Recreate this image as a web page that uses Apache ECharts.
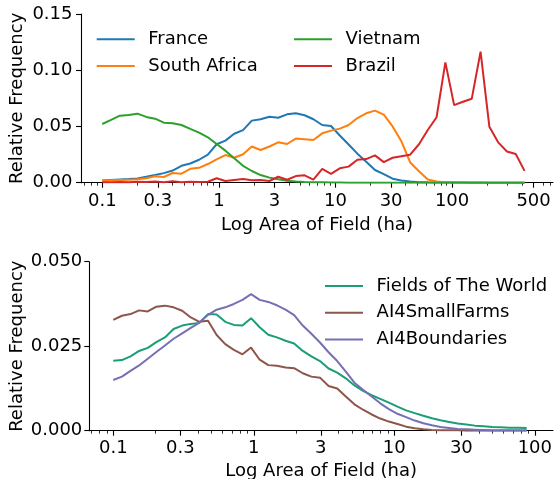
<!DOCTYPE html>
<html>
<head>
<meta charset="utf-8">
<script src="https://cdn.jsdelivr.net/npm/echarts@6/dist/echarts.min.js"></script>
<style>
html,body{margin:0;padding:0;background:#fff;}
#chart{width:554px;height:479px;}
</style>
</head>
<body>
<div id="chart"></div>
<script>
// ---------- Top panel data (field area bins, ha) ----------
const topArea = [0.1, 0.119, 0.1416, 0.1684, 0.2003, 0.2384, 0.2836, 0.3375, 0.4015, 0.4777,
  0.5683, 0.6762, 0.8045, 0.9569, 1.138, 1.354, 1.612, 1.917, 2.281, 2.714,
  3.228, 3.841, 4.570, 5.437, 6.469, 7.696, 9.157, 10.89, 12.96, 15.42,
  18.35, 21.83, 25.97, 30.90, 36.76, 43.73, 52.03, 61.90, 73.65, 87.62,
  104.2, 124.0, 147.6, 175.6, 208.9, 248.5, 295.7, 351.8, 418.5];

const france = [0.0020, 0.0024, 0.0028, 0.0032, 0.0038, 0.0052, 0.0068, 0.0085, 0.0108, 0.0150,
  0.0171, 0.0204, 0.0250, 0.0342, 0.0374, 0.0435, 0.0467, 0.0552, 0.0564, 0.0587,
  0.0578, 0.0608, 0.0617, 0.0600, 0.0564, 0.0513, 0.0504, 0.0420, 0.0340, 0.0258,
  0.0187, 0.0113, 0.0076, 0.0036, 0.0020, 0.0010, 0.0005, 0.0003, 0.0002, 0.0001,
  0.0001, 0.0001, 0, 0, 0, 0, 0, 0, 0];

const southAfrica = [0.0018, 0.0021, 0.0024, 0.0027, 0.0030, 0.0039, 0.0057, 0.0051, 0.0086, 0.0080,
  0.0124, 0.0132, 0.0166, 0.0208, 0.0246, 0.0222, 0.0253, 0.0322, 0.0291, 0.0322,
  0.0359, 0.0344, 0.0392, 0.0386, 0.0380, 0.0439, 0.0463, 0.0481, 0.0513, 0.0575,
  0.0617, 0.0641, 0.0605, 0.0500, 0.0368, 0.0180, 0.0102, 0.0028, 0.0010, 0.0005,
  0.0003, 0.0002, 0.0001, 0.0001, 0, 0, 0, 0, 0];

const vietnam = [0.0522, 0.0558, 0.0596, 0.0602, 0.0614, 0.0585, 0.0569, 0.0534, 0.0528, 0.0513,
  0.0478, 0.0445, 0.0404, 0.0344, 0.0285, 0.0217, 0.0150, 0.0104, 0.0068, 0.0045,
  0.0030, 0.0018, 0.0010, 0.0006, 0.0004, 0.0003, 0.0002, 0.0001, 0, 0,
  0, 0, 0, 0, 0, 0, 0, 0, 0, 0,
  0, 0, 0, 0, 0, 0, 0, 0, 0];

const brazil = [0.0004, 0.0005, 0.0006, 0.0005, 0.0008, 0.0006, 0.0010, 0.0005, 0.0012, 0.0004,
  0.0008, 0.0006, 0.0008, 0.0040, 0.0015, 0.0024, 0.0032, 0.0021, 0.0024, 0.0015,
  0.0053, 0.0026, 0.0059, 0.0066, 0.0028, 0.0122, 0.0078, 0.0128, 0.0143, 0.0204,
  0.0210, 0.0243, 0.0183, 0.0222, 0.0236, 0.0249, 0.0342, 0.0469, 0.0582, 0.1070,
  0.0690, 0.0720, 0.0747, 0.1165, 0.0498, 0.0359, 0.0278, 0.0255, 0.0105];

// ---------- Bottom panel data ----------
const botArea = [0.1, 0.1152, 0.1326, 0.1527, 0.1759, 0.2025, 0.2332, 0.2686, 0.3093, 0.3562,
  0.4102, 0.4724, 0.544, 0.6264, 0.7214, 0.8307, 0.9564, 1.101, 1.268, 1.461,
  1.682, 1.937, 2.231, 2.569, 2.958, 3.406, 3.923, 4.517, 5.202, 5.990,
  6.898, 7.943, 9.147, 10.53, 12.13, 13.97, 16.09, 18.53, 21.33, 24.57,
  28.29, 32.58, 37.52, 43.20, 49.75, 57.29, 65.97, 75.97, 87.49];

const fieldsOfTheWorld = [0.0207, 0.0209, 0.0220, 0.0236, 0.0245, 0.0262, 0.0276, 0.0301, 0.0311, 0.0316,
  0.0319, 0.0345, 0.0344, 0.0322, 0.0313, 0.0311, 0.0333, 0.0306, 0.0284, 0.0276,
  0.0266, 0.0258, 0.0236, 0.0220, 0.0206, 0.0184, 0.0172, 0.0155, 0.0134, 0.0118,
  0.0105, 0.0094, 0.0083, 0.0071, 0.0060, 0.0052, 0.0044, 0.0037, 0.0031, 0.0026,
  0.0021, 0.0018, 0.0015, 0.0013, 0.0011, 0.0010, 0.0009, 0.0009, 0.0008];

const ai4SmallFarms = [0.0328, 0.0340, 0.0345, 0.0356, 0.0353, 0.0367, 0.0370, 0.0365, 0.0355, 0.0335,
  0.0322, 0.0325, 0.0283, 0.0256, 0.0239, 0.0226, 0.0246, 0.0210, 0.0194, 0.0192,
  0.0187, 0.0185, 0.0170, 0.0160, 0.0157, 0.0132, 0.0125, 0.0101, 0.0078, 0.0062,
  0.0048, 0.0036, 0.0027, 0.0020, 0.0012, 0.0007, 0.0004, 0.0002, 0.0001, 0.0001,
  0.0001, 0, 0, 0, 0, 0, 0, 0, 0];

const ai4Boundaries = [0.0150, 0.0160, 0.0177, 0.0193, 0.0213, 0.0233, 0.0252, 0.0272, 0.0288, 0.0304,
  0.0320, 0.0343, 0.0358, 0.0365, 0.0375, 0.0387, 0.0404, 0.0387, 0.0381, 0.0371,
  0.0358, 0.0342, 0.0311, 0.0287, 0.0261, 0.0232, 0.0206, 0.0175, 0.0142, 0.0121,
  0.0101, 0.0081, 0.0064, 0.0050, 0.0040, 0.0030, 0.0022, 0.0016, 0.0011, 0.0008,
  0.0005, 0.0004, 0.0003, 0.0002, 0.0001, 0.0001, 0.0001, 0.0001, 0.0001];

// ---------- Ticks ----------
const topTickValues = [0.1, 0.3, 1, 3, 10, 30, 100, 500];
const topTickLabels = ['0.1', '0.3', '1', '3', '10', '30', '100', '500'];
const topMinorTicks = [0.07, 0.08, 0.09, 0.2, 0.4, 0.5, 0.6, 0.7, 0.8, 0.9, 2, 4, 5, 6, 7, 8, 9,
  20, 40, 50, 60, 70, 80, 90, 200, 300, 400, 600, 700];
const botTickValues = [0.1, 0.3, 1, 3, 10, 30, 100];
const botTickLabels = ['0.1', '0.3', '1', '3', '10', '30', '100'];
const botMinorTicks = [0.07, 0.08, 0.09, 0.2, 0.4, 0.5, 0.6, 0.7, 0.8, 0.9, 2, 4, 5, 6, 7, 8, 9,
  20, 40, 50, 60, 70, 80, 90];

const FONT = 'DejaVu Sans';
const pairs = (xs, ys) => xs.map((x, i) => [x, ys[i]]);
function labelFor(values, labels) {
  return function (v) {
    let best = 0, bd = Infinity;
    for (let i = 0; i < values.length; i++) {
      const d = Math.abs(Math.log10(v) - Math.log10(values[i]));
      if (d < bd) { bd = d; best = i; }
    }
    return labels[best];
  };
}

const txt = {color: '#000', fontFamily: FONT, fontSize: 18};
const axLine = {show: true, lineStyle: {color: '#000', width: 1.1}};

function majorX(gridIndex, min, max, vals, labs, margin, nameGap) {
  return {
    type: 'log', logBase: 10, gridIndex: gridIndex, min: min, max: max, position: 'bottom',
    axisLine: axLine,
    axisTick: {show: true, customValues: vals, length: 5, lineStyle: {color: '#000', width: 1.1}},
    axisLabel: Object.assign({customValues: vals, margin: margin, formatter: labelFor(vals, labs)}, txt),
    splitLine: {show: false}, minorTick: {show: false},
    name: 'Log Area of Field (ha)', nameLocation: 'middle', nameGap: nameGap, nameMoveOverlap: false,
    nameTextStyle: Object.assign({}, txt)
  };
}
function minorX(gridIndex, min, max, vals) {
  return {
    type: 'log', logBase: 10, gridIndex: gridIndex, min: min, max: max, position: 'bottom',
    axisLine: {show: false},
    axisTick: {show: true, customValues: vals, length: 3, lineStyle: {color: '#000', width: 0.8}},
    axisLabel: {show: false}, splitLine: {show: false}
  };
}
function yAx(gridIndex, max, interval, digits, margin, nameGap) {
  return {
    type: 'value', gridIndex: gridIndex, min: 0, max: max, interval: interval,
    axisLine: axLine,
    axisTick: {show: true, length: 5, lineStyle: {color: '#000', width: 1.1}},
    axisLabel: Object.assign({margin: margin, formatter: v => v.toFixed(digits)}, txt),
    splitLine: {show: false},
    name: 'Relative Frequency', nameLocation: 'middle', nameGap: nameGap, nameMoveOverlap: false,
    nameTextStyle: Object.assign({}, txt)
  };
}
function line(name, data, color, xi, yi) {
  return {
    name: name, type: 'line', data: data, xAxisIndex: xi, yAxisIndex: yi,
    symbol: 'none', showSymbol: false, smooth: false, animation: false,
    lineStyle: {color: color, width: 2}, itemStyle: {color: color}
  };
}
const legendBase = {
  orient: 'vertical', itemWidth: 38, itemHeight: 18, itemGap: 8.8, padding: 0,
  icon: 'path://M0,0 H38 V2 H0 Z',
  textStyle: Object.assign({padding: [0, 0, 0, 8.6], lineHeight: 18}, txt),
  selectedMode: false
};

const chart = echarts.init(document.getElementById('chart'), null, {renderer: 'canvas'});
chart.setOption({
  animation: false,
  backgroundColor: '#fff',
  grid: [
    {left: 81, top: 14, right: 1, bottom: 479 - 182.7, containLabel: false, outerBoundsMode: 'none'},
    {left: 89.3, top: 261.7, right: 1, bottom: 479 - 430.7, containLabel: false, outerBoundsMode: 'none'}
  ],
  xAxis: [
    majorX(0, 0.0657, 734, topTickValues, topTickLabels, 10, 34),
    minorX(0, 0.0657, 734, topMinorTicks),
    majorX(1, 0.0675, 134.7, botTickValues, botTickLabels, 9, 31.5),
    minorX(1, 0.0675, 134.7, botMinorTicks)
  ],
  yAxis: [
    yAx(0, 0.15, 0.05, 2, 8.5, 55),
    yAx(1, 0.05, 0.025, 3, 7, 63)
  ],
  legend: [
    Object.assign({left: 96.7, top: 30.2, data: ['France', 'South Africa']}, legendBase),
    Object.assign({left: 294, top: 30.2, data: ['Vietnam', 'Brazil']}, legendBase),
    Object.assign({left: 325, top: 277, data: ['Fields of The World', 'AI4SmallFarms', 'AI4Boundaries']}, legendBase)
  ],
  series: [
    line('France', pairs(topArea, france), '#1f77b4', 0, 0),
    line('South Africa', pairs(topArea, southAfrica), '#ff7f0e', 0, 0),
    line('Vietnam', pairs(topArea, vietnam), '#2ca02c', 0, 0),
    line('Brazil', pairs(topArea, brazil), '#d62728', 0, 0),
    line('Fields of The World', pairs(botArea, fieldsOfTheWorld), '#1b9e77', 2, 1),
    line('AI4SmallFarms', pairs(botArea, ai4SmallFarms), '#8c564b', 2, 1),
    line('AI4Boundaries', pairs(botArea, ai4Boundaries), '#7570b3', 2, 1)
  ]
});
</script>
</body>
</html>
